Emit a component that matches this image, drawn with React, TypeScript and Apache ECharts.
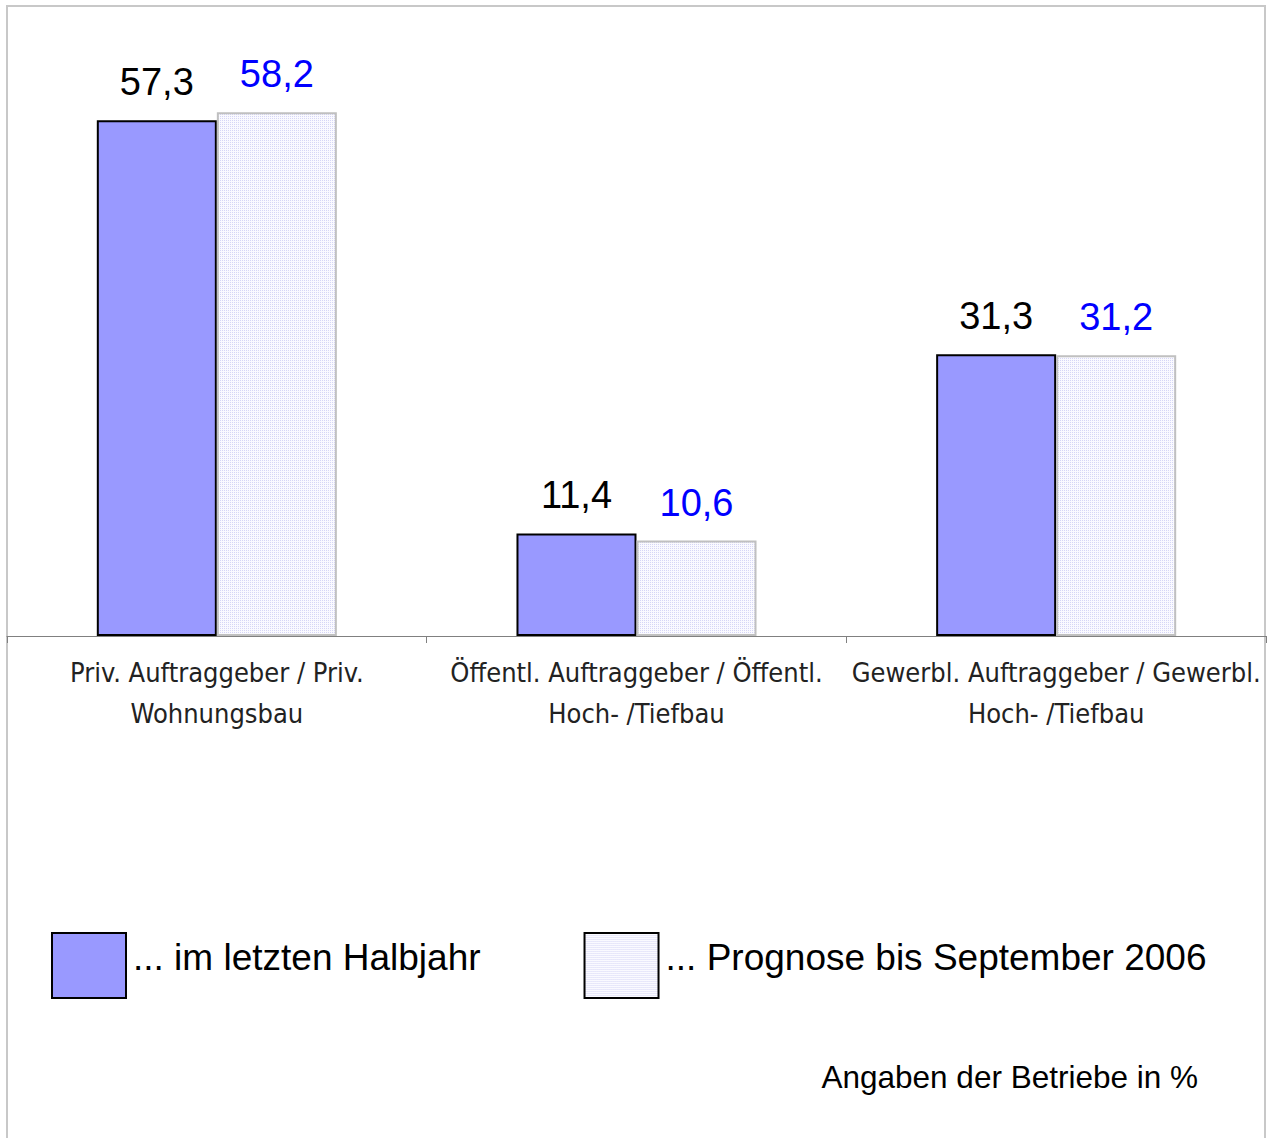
import React, { useEffect, useRef } from "react";
import * as echarts from "echarts";

const categories = [
  "Priv. Auftraggeber / Priv.\nWohnungsbau",
  "Öffentl. Auftraggeber / Öffentl.\nHoch- /Tiefbau",
  "Gewerbl. Auftraggeber / Gewerbl.\nHoch- /Tiefbau",
];
const seriesNames = ["... im letzten Halbjahr", "... Prognose bis September 2006"];
const lastHalfYear = [57.3, 11.4, 31.3];
const forecast = [58.2, 10.6, 31.2];
const footnote = "Angaben der Betriebe in %";

function makePattern(): any {
  const c = document.createElement("canvas");
  c.width = 2;
  c.height = 2;
  const ctx = c.getContext("2d")!;
  ctx.fillStyle = "#FAFAFF";
  ctx.fillRect(0, 0, 2, 2);
  ctx.fillStyle = "#D6D6F6";
  ctx.fillRect(0, 0, 1, 1);
  return { image: c, repeat: "repeat" };
}

export default function App() {
  const ref = useRef<HTMLDivElement>(null);
  useEffect(() => {
    if (!ref.current) return;
    const chart = echarts.init(ref.current, null, { renderer: "svg" });
    const pattern = makePattern();
    const fmt = (p: any) => String(p.value).replace(".", ",");
    const valueLabel = (color: string) => ({
      show: true,
      position: "top",
      distance: 19,
      formatter: fmt,
      color,
      fontFamily: "Liberation Sans, Arial, sans-serif",
      fontSize: 38,
    });
    chart.setOption({
      animation: false,
      backgroundColor: "#ffffff",
      grid: { left: 7, right: 4, top: 6, bottom: 502, containLabel: false },
      xAxis: {
        type: "category",
        data: categories,
        axisLine: { lineStyle: { color: "#808080", width: 1 } },
        axisTick: { show: true, length: 7, lineStyle: { color: "#808080" } },
        axisLabel: {
          interval: 0,
          margin: 16,
          color: "#222222",
          fontFamily: "Liberation Sans Narrow, DejaVu Sans Condensed, sans-serif",
          fontSize: 27,
          lineHeight: 41,
        },
      },
      yAxis: {
        type: "value",
        min: 0,
        max: 70,
        show: false,
        splitLine: { show: false },
      },
      legend: {
        left: 51,
        top: 932,
        padding: 0,
        itemWidth: 74,
        itemHeight: 65,
        itemGap: 103,
        icon: "rect",
        formatter: "{t|{name}}",
        textStyle: {
          fontFamily: "Liberation Sans, Arial, sans-serif",
          fontSize: 37,
          color: "#000",
          rich: {
            t: {
              fontFamily: "Liberation Sans, Arial, sans-serif",
              fontSize: 37,
              color: "#000",
              padding: [0, 0, 16, 2],
            },
          },
        },
        itemStyle: { borderColor: "#000", borderWidth: 2 },
        data: seriesNames,
      },
      series: [
        {
          name: seriesNames[0],
          type: "bar",
          data: lastHalfYear,
          barGap: "0%",
          barCategoryGap: "42.8%",
          itemStyle: { color: "#9999FF", borderColor: "#000", borderWidth: 2 },
          label: valueLabel("#000000"),
        },
        {
          name: seriesNames[1],
          type: "bar",
          data: forecast,
          itemStyle: { color: pattern, borderColor: "#C0C0C0", borderWidth: 2 },
          label: valueLabel("#0000FF"),
        },
      ],
      graphic: [
        {
          type: "rect",
          shape: { x: 7, y: 6, width: 1258, height: 1150 },
          style: { fill: "none", stroke: "#C8C8C8", lineWidth: 2 },
          silent: true,
          z: -1,
        },
        {
          type: "text",
          right: 72,
          top: 1061,
          style: {
            text: footnote,
            fill: "#000",
            font: "31.5px 'Liberation Sans', Arial, sans-serif",
          },
        },
      ],
    });
    return () => chart.dispose();
  }, []);
  return (
    <div
      ref={ref}
      style={{ position: "fixed", left: 0, top: 0, width: 1270, height: 1138 }}
    />
  );
}
